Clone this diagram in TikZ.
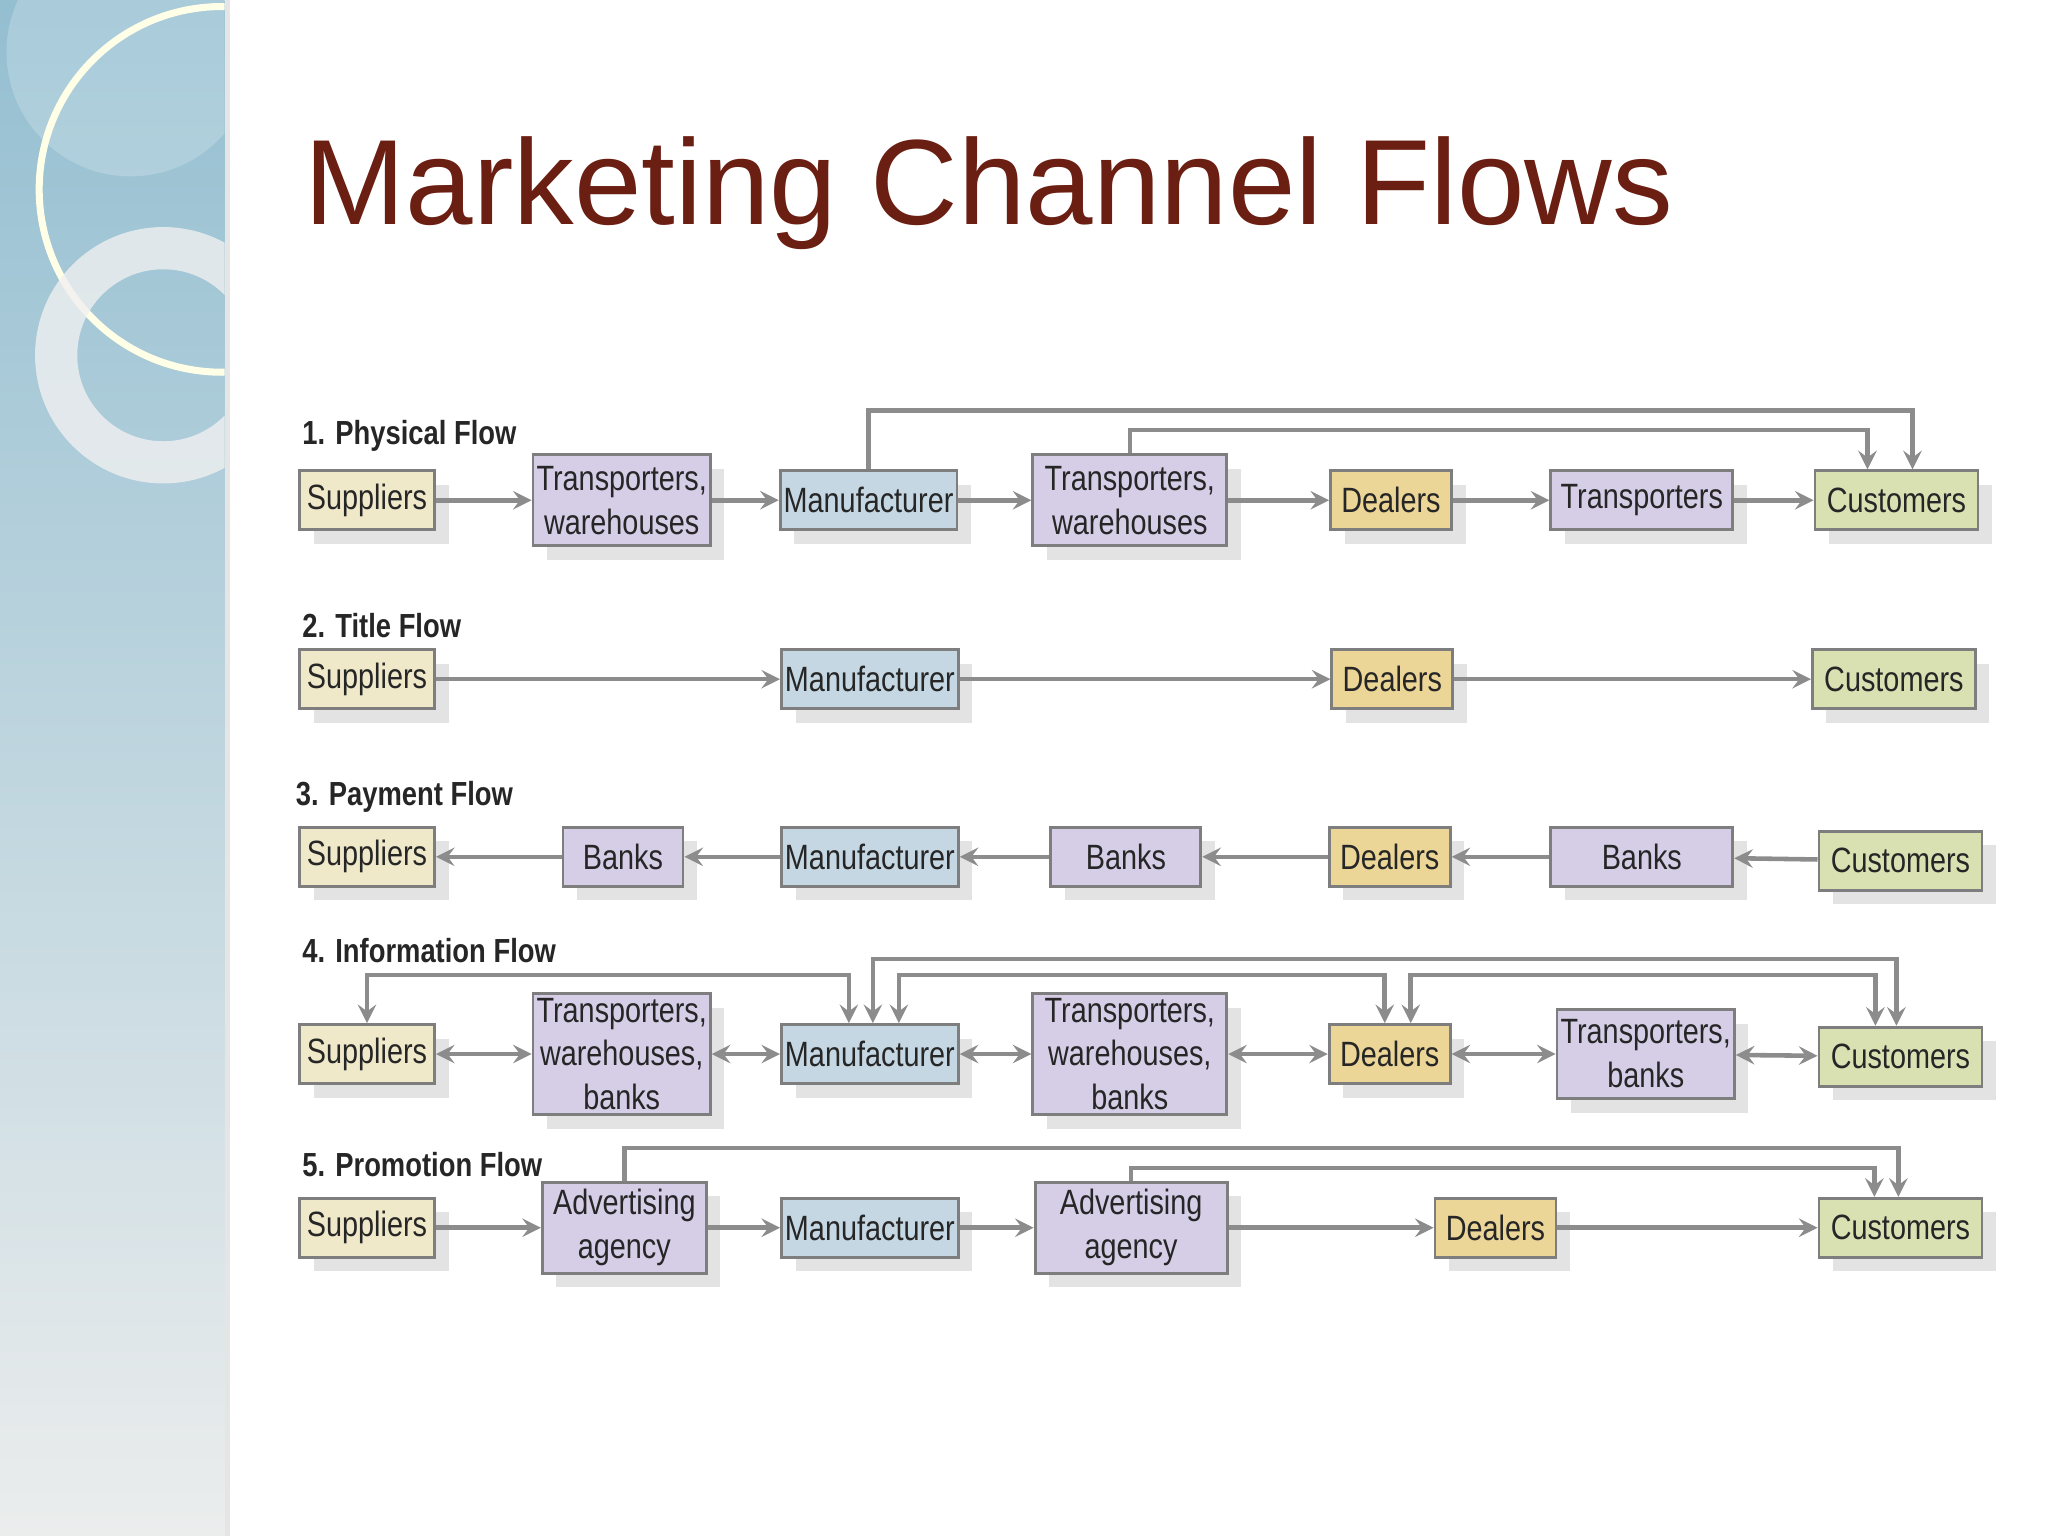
\documentclass[tikz,border=0pt]{standalone}
\usepackage{fontspec}
\setmainfont{Liberation Sans}
\newfontfamily\cond[FakeStretch=0.82]{Liberation Sans}
\usetikzlibrary{arrows}
\usetikzlibrary{shadows}
\definecolor{supc}{HTML}{EFE8C9}
\definecolor{midc}{HTML}{D6CDE7}
\definecolor{manc}{HTML}{C5D7E3}
\definecolor{deac}{HTML}{EBD597}
\definecolor{cusc}{HTML}{D9E1B3}
\definecolor{titc}{HTML}{6B1E12}
\definecolor{linc}{HTML}{8C8C8C}
\tikzset{
  box/.style={draw=linc!90!black, line width=0.8pt, fill=#1, align=center,
    minimum height=.59cm, inner sep=1pt, font=\cond\fontsize{10}{12.5}\selectfont,
    text=black!85, drop shadow={shadow xshift=4pt, shadow yshift=-4pt, fill=gray!22, opacity=1}},
  arr/.style={draw=linc, line width=1.3pt, -stealth},
  larr/.style={draw=linc, line width=1.3pt, stealth-},
  dbl/.style={draw=linc, line width=1.3pt, stealth-stealth},
  lab/.style={anchor=west, font=\cond\bfseries\fontsize{9.5}{12}\selectfont, text=black!85}
}
\begin{document}
\begin{tikzpicture}[x=0.01306cm, y=-0.01306cm]
\useasboundingbox (0,0) rectangle (1568,1176);
% side panel
\shade[top color=blue!30!cyan!40!gray!60, bottom color=cyan!5!gray!15] (0,0) rectangle (172,1176);
\begin{scope}
\clip (0,0) rectangle (172,1176);
\fill[white, opacity=.2] (100,40) circle (95);
\draw[white!90!yellow, line width=2pt] (170,145) circle (140);
\draw[gray!12, line width=12pt, opacity=.8] (125,272) circle (82);
\end{scope}
\fill[gray!20] (172,0) rectangle (176,1176);
\node[anchor=base west, text=titc, font=\fontsize{34.5}{40}\selectfont] (title) at (224,172) {Marketing Channel Flows};
% 1. physical
\node[lab] (l1) at (222,334) {1. Physical Flow};
\node[box=supc, minimum width=1.35cm] (s1) at (281,383) {Suppliers};
\node[box=midc, minimum width=1.66cm, minimum height=.91cm] (t1a) at (476,383) {Transporters,\\warehouses};
\node[box=manc, minimum width=1.75cm] (m1) at (665,383) {Manufacturer};
\node[box=midc, minimum width=1.94cm, minimum height=.91cm] (t1b) at (865,383) {Transporters,\\warehouses};
\node[box=deac, minimum width=1.21cm] (d1) at (1065,383) {Dealers};
\node[box=midc, minimum width=1.82cm] (t1c) at (1257,383) {Transporters};
\node[box=cusc, minimum width=1.63cm] (c1) at (1452,383) {Customers};
\draw[arr] (s1) -- (t1a);
\draw[arr] (t1a) -- (m1);
\draw[arr] (m1) -- (t1b);
\draw[arr] (t1b) -- (d1);
\draw[arr] (d1) -- (t1c);
\draw[arr] (t1c) -- (c1);
\draw[arr] (m1.north) -- ++(0,-45) -| ([xshift=.16cm]c1.north);
\draw[arr] (t1b.north) -- ++(0,-18) -| ([xshift=-.29cm]c1.north);
% 2. title
\node[lab] (l2) at (222,479) {2. Title Flow};
\node[box=supc, minimum width=1.35cm] (s2) at (281,520) {Suppliers};
\node[box=manc, minimum width=1.75cm] (m2) at (666,520) {Manufacturer};
\node[box=deac, minimum width=1.21cm] (d2) at (1066,520) {Dealers};
\node[box=cusc, minimum width=1.63cm] (c2) at (1450,520) {Customers};
\draw[arr] (s2) -- (m2);
\draw[arr] (m2) -- (d2);
\draw[arr] (d2) -- (c2);
% 3. payment
\node[lab] (l3) at (217,610) {3. Payment Flow};
\node[box=supc, minimum width=1.35cm] (s3) at (281,656) {Suppliers};
\node[box=midc, minimum width=1.2cm] (b3a) at (477,656) {Banks};
\node[box=manc, minimum width=1.75cm] (m3) at (666,656) {Manufacturer};
\node[box=midc, minimum width=1.5cm] (b3b) at (862,656) {Banks};
\node[box=deac, minimum width=1.21cm] (d3) at (1064,656) {Dealers};
\node[box=midc, minimum width=1.82cm] (b3c) at (1257,656) {Banks};
\node[box=cusc, minimum width=1.63cm] (c3) at (1455,659) {Customers};
\draw[larr] (s3) -- (b3a);
\draw[larr] (b3a) -- (m3);
\draw[larr] (m3) -- (b3b);
\draw[larr] (b3b) -- (d3);
\draw[larr] (d3) -- (b3c);
\draw[larr] (b3c) -- (c3);
% 4. information
\node[lab] (l4) at (222,728) {4. Information Flow};
\node[box=supc, minimum width=1.35cm] (s4) at (281,807) {Suppliers};
\node[box=midc, minimum width=1.64cm, minimum height=1.21cm] (t4a) at (476,807) {Transporters,\\warehouses,\\banks};
\node[box=manc, minimum width=1.75cm] (m4) at (666,807) {Manufacturer};
\node[box=midc, minimum width=1.94cm, minimum height=1.21cm] (t4b) at (865,807) {Transporters,\\warehouses,\\banks};
\node[box=deac, minimum width=1.21cm] (d4) at (1064,807) {Dealers};
\node[box=midc, minimum width=1.74cm, minimum height=.89cm] (t4c) at (1260,807) {Transporters,\\banks};
\node[box=cusc, minimum width=1.63cm] (c4) at (1455,809) {Customers};
\draw[dbl] (s4) -- (t4a);
\draw[dbl] (t4a) -- (m4);
\draw[dbl] (m4) -- (t4b);
\draw[dbl] (t4b) -- (d4);
\draw[dbl] (d4) -- (t4c);
\draw[dbl] (t4c) -- (c4);
\draw[dbl] (s4.north) -- ++(0,-37) -| ([xshift=-.21cm]m4.north);
\draw[dbl] ([xshift=.03cm]m4.north) -- ++(0,-49) -| ([xshift=-.04cm]c4.north);
\draw[dbl] ([xshift=.29cm]m4.north) -- ++(0,-37) -| ([xshift=-.05cm]d4.north);
\draw[dbl] ([xshift=.21cm]d4.north) -- ++(0,-37) -| ([xshift=-.25cm]c4.north);
% 5. promotion
\node[lab] (l5) at (222,892) {5. Promotion Flow};
\node[box=supc, minimum width=1.35cm] (s5) at (281,940) {Suppliers};
\node[box=midc, minimum width=1.64cm, minimum height=.91cm] (a5a) at (478,940) {Advertising\\agency};
\node[box=manc, minimum width=1.75cm] (m5) at (666,940) {Manufacturer};
\node[box=midc, minimum width=1.92cm, minimum height=.91cm] (a5b) at (866,940) {Advertising\\agency};
\node[box=deac, minimum width=1.21cm] (d5) at (1145,940) {Dealers};
\node[box=cusc, minimum width=1.63cm] (c5) at (1455,940) {Customers};
\draw[arr] (s5) -- (a5a);
\draw[arr] (a5a) -- (m5);
\draw[arr] (m5) -- (a5b);
\draw[arr] (a5b) -- (d5);
\draw[arr] (d5) -- (c5);
\draw[arr] (a5a.north) -- ++(0,-25) -| ([xshift=-.02cm]c5.north);
\draw[arr] (a5b.north) -- ++(0,-10) -| ([xshift=-.26cm]c5.north);
\end{tikzpicture}
\end{document}
